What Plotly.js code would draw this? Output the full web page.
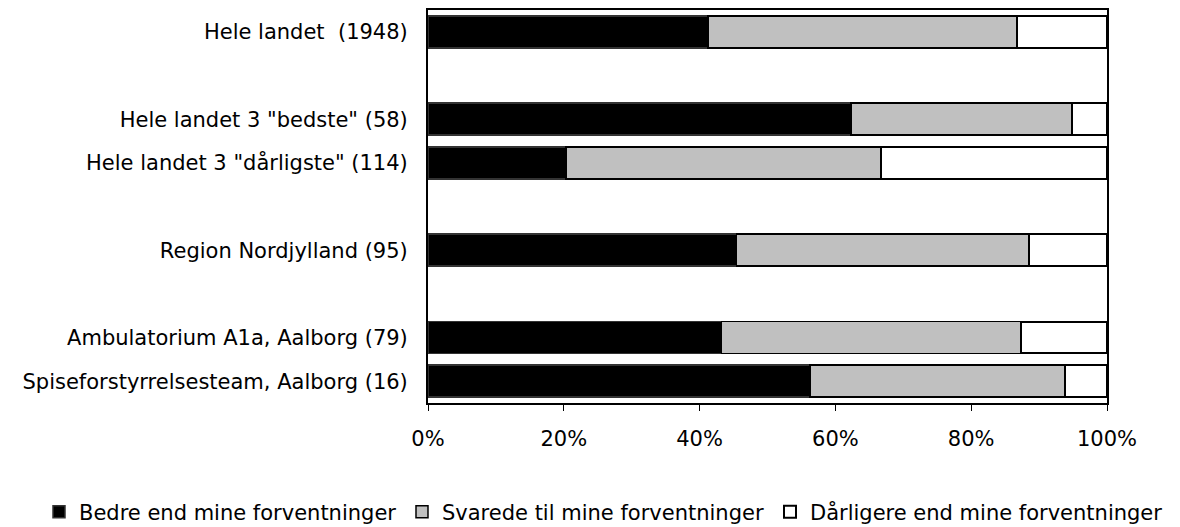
<!DOCTYPE html>
<html>
<head>
<meta charset="utf-8">
<script src="https://cdn.plot.ly/plotly-3.0.1.min.js"></script>
<style>html,body{margin:0;padding:0;background:#fff;}#chart{width:1180px;height:527px;}</style>
</head>
<body>
<div id="chart"></div>
<script>
const categories = [
  'Hele landet  (1948)',
  ' ',
  'Hele landet 3 "bedste" (58)',
  'Hele landet 3 "dårligste" (114)',
  '  ',
  'Region Nordjylland (95)',
  '   ',
  'Ambulatorium A1a, Aalborg (79)',
  'Spiseforstyrrelsesteam, Aalborg (16)'
];
const seriesNames = ['Bedre end mine forventninger', 'Svarede til mine forventninger', 'Dårligere end mine forventninger'];
const bedre    = [41.2, null, 62.3, 20.3, null, 45.4, null, 43.2, 56.25];
const svarede  = [45.5, null, 32.6, 46.4, null, 43.1, null, 44.2, 37.5];
const daarligere = [13.3, null, 5.1, 33.3, null, 11.5, null, 12.6, 6.25];
const tickVals = [0, 20, 40, 60, 80, 100];
const tickLabels = ['0%', '20%', '40%', '60%', '80%', '100%'];

const colors = ['#000000', '#c0c0c0', '#ffffff'];
const series = [bedre, svarede, daarligere];
const legendIds = ['legend', 'legend2', 'legend3'];
const legendX = [-0.5729, -0.0383, 0.5037];

const traces = series.map((vals, i) => ({
  type: 'bar',
  orientation: 'h',
  name: seriesNames[i],
  y: categories,
  x: vals,
  width: 0.73,
  legend: legendIds[i],
  marker: {color: colors[i], line: {color: i === 0 ? '#333333' : '#000000', width: i === 2 ? 2 : 1.5}},
  hoverinfo: 'x+name'
}));

const layout = {
  width: 1180,
  height: 527,
  barmode: 'stack',
  paper_bgcolor: '#ffffff',
  plot_bgcolor: '#ffffff',
  font: {family: 'DejaVu Sans, Verdana, sans-serif', size: 21, color: '#000000'},
  margin: {l: 428, r: 73, t: 10, b: 124, autoexpand: false},
  xaxis: {
    range: [0, 100],
    tickmode: 'array',
    tickvals: tickVals,
    ticktext: tickLabels,
    ticks: 'outside',
    ticklen: 6,
    tickcolor: '#000',
    tickwidth: 1,
    ticklabelstandoff: 10,
    showgrid: false,
    zeroline: false,
    showline: true,
    linecolor: '#000',
    linewidth: 2,
    mirror: true,
    fixedrange: true,
    automargin: false
  },
  yaxis: {
    type: 'category',
    categoryorder: 'array',
    categoryarray: categories,
    autorange: 'reversed',
    ticks: '',
    ticklabelstandoff: 14,
    showgrid: false,
    zeroline: false,
    showline: true,
    linecolor: '#000',
    linewidth: 2,
    mirror: true,
    fixedrange: true,
    automargin: false
  },
  showlegend: true
};

legendIds.forEach((id, i) => {
  layout[id] = {
    orientation: 'h',
    x: legendX[i],
    xanchor: 'left',
    y: -0.2774,
    yanchor: 'middle',
    font: {size: 21},
    itemwidth: 30,
    bgcolor: 'rgba(0,0,0,0)'
  };
});

Plotly.newPlot('chart', traces, layout, {displayModeBar: false, staticPlot: true});
</script>
</body>
</html>
